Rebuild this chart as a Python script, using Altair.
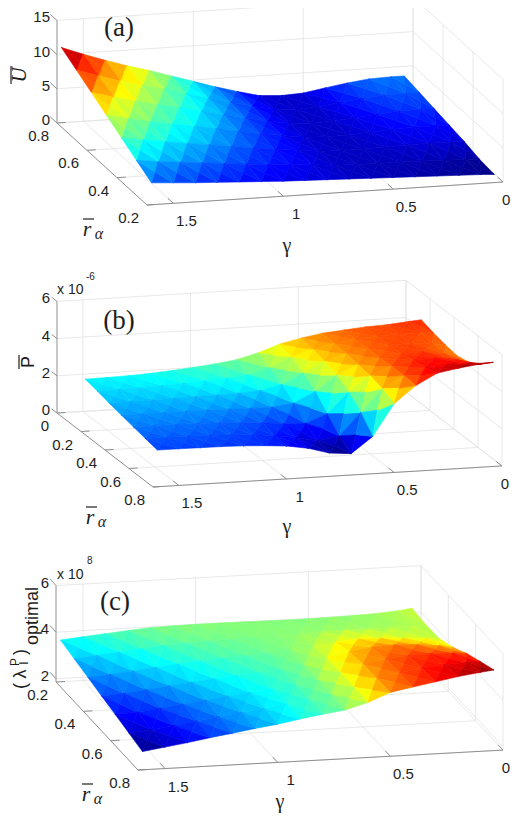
import altair as alt
import pandas as pd

# ---------------- data ----------------
gamma = [0.04, 0.1, 0.2, 0.3, 0.4, 0.5, 0.6, 0.7, 0.8, 0.9, 1.0, 1.1, 1.2, 1.3, 1.4, 1.5, 1.6]
r_alpha = [0.2, 0.3, 0.4, 0.5, 0.6, 0.7, 0.8]

# (a) U-bar : one list per r_alpha value (0.2 ... 0.8), along gamma
U_r02 = [1.2, 1.3, 1.4, 1.5, 1.6, 1.7, 1.8, 1.9, 2.0, 2.1, 2.2, 2.35, 2.5, 2.65, 2.8, 3.0, 3.2]
U_r03 = [1.45, 1.5, 1.6, 1.7, 1.75, 1.75, 1.8, 1.9, 2.2, 2.4, 2.6, 2.9, 3.2, 3.5, 3.8, 4.1, 4.5]
U_r04 = [2.0, 2.05, 2.1, 2.05, 1.95, 1.85, 1.85, 1.95, 2.3, 2.65, 3.05, 3.5, 3.95, 4.35, 4.8, 5.3, 5.8]
U_r05 = [2.4, 2.45, 2.45, 2.3, 2.1, 1.9, 1.85, 2.0, 2.45, 2.95, 3.5, 4.1, 4.65, 5.2, 5.75, 6.4, 7.1]
U_r06 = [2.8, 2.85, 2.8, 2.55, 2.25, 1.95, 1.85, 2.05, 2.6, 3.25, 3.95, 4.65, 5.35, 6.0, 6.75, 7.55, 8.4]
U_r07 = [3.2, 3.2, 3.15, 2.85, 2.45, 2.0, 1.9, 2.1, 2.8, 3.55, 4.35, 5.2, 6.1, 6.85, 7.7, 8.65, 9.7]
U_r08 = [3.6, 3.6, 3.5, 3.1, 2.6, 2.05, 1.9, 2.1, 2.9, 3.8, 4.8, 5.8, 6.8, 7.7, 8.7, 9.8, 11.0]

# (b) P-bar (x 1e-6)
P_r02 = [4.9, 4.85, 4.75, 4.7, 4.6, 4.5, 4.3, 4.05, 3.65, 3.35, 3.2, 3.08, 2.98, 2.9, 2.85, 2.82, 2.8]
P_r03 = [4.7, 4.75, 4.75, 4.7, 4.6, 4.45, 4.2, 3.85, 3.35, 3.05, 2.93, 2.86, 2.8, 2.75, 2.7, 2.68, 2.66]
P_r04 = [4.55, 4.65, 4.75, 4.72, 4.6, 4.4, 4.05, 3.5, 2.95, 2.7, 2.62, 2.6, 2.58, 2.56, 2.54, 2.52, 2.5]
P_r05 = [4.45, 4.6, 4.8, 4.75, 4.6, 4.3, 3.8, 3.0, 2.45, 2.3, 2.3, 2.33, 2.35, 2.36, 2.36, 2.36, 2.36]
P_r06 = [4.6, 4.8, 4.95, 4.9, 4.65, 4.2, 3.4, 2.3, 1.85, 1.9, 2.02, 2.1, 2.16, 2.2, 2.22, 2.23, 2.23]
P_r07 = [5.0, 5.1, 5.1, 5.0, 4.65, 4.0, 2.8, 1.6, 1.42, 1.65, 1.84, 1.95, 2.02, 2.06, 2.08, 2.09, 2.1]
P_r08 = [5.6, 5.55, 5.4, 5.2, 4.6, 3.7, 2.0, 1.15, 1.25, 1.58, 1.77, 1.86, 1.92, 1.95, 1.96, 1.97, 1.97]

# (c) (lambda_I^P)_optimal (x 1e8)
L_r02 = [4.19, 4.12, 4.05, 4.02, 4.0, 3.98, 3.98, 3.99, 4.0, 4.01, 4.01, 4.0, 3.97, 3.9, 3.82, 3.74, 3.65]
L_r03 = [4.12, 4.1, 4.08, 4.07, 4.08, 4.05, 4.02, 4.0, 3.98, 3.95, 3.92, 3.88, 3.83, 3.75, 3.66, 3.57, 3.48]
L_r04 = [4.15, 4.2, 4.25, 4.3, 4.32, 4.25, 4.1, 3.98, 3.92, 3.87, 3.82, 3.75, 3.67, 3.58, 3.48, 3.38, 3.31]
L_r05 = [4.4, 4.5, 4.6, 4.65, 4.6, 4.45, 4.2, 3.98, 3.85, 3.77, 3.7, 3.62, 3.52, 3.42, 3.3, 3.2, 3.14]
L_r06 = [4.77, 4.82, 4.85, 4.82, 4.72, 4.55, 4.25, 3.98, 3.83, 3.7, 3.6, 3.5, 3.38, 3.26, 3.14, 3.02, 2.98]
L_r07 = [5.05, 5.05, 5.0, 4.9, 4.76, 4.58, 4.24, 3.98, 3.82, 3.68, 3.55, 3.43, 3.3, 3.17, 3.03, 2.9, 2.81]
L_r08 = [5.32, 5.25, 5.12, 4.95, 4.78, 4.6, 4.22, 3.95, 3.82, 3.67, 3.5, 3.37, 3.22, 3.08, 2.92, 2.78, 2.64]

gamma_ticks = [0.5, 1, 1.5]
gamma_tick_text = ["0.5", "1", "1.5"]
gamma_zero_tick = [0]
gamma_zero_text = ["0"]

z_ticks_a = [0, 5, 10, 15]
z_text_a = ["0", "5", "10", "15"]
r_ticks_a = [0.2, 0.4, 0.6, 0.8]
r_text_a = ["0.2", "0.4", "0.6", "0.8"]

z_ticks_b = [0, 2, 4, 6]
z_text_b = ["0", "2", "4", "6"]
r_ticks_b = [0, 0.2, 0.4, 0.6, 0.8]
r_text_b = ["0", "0.2", "0.4", "0.6", "0.8"]

z_ticks_c = [2, 4, 6]
z_text_c = ["2", "4", "6"]
r_ticks_c = [0.2, 0.4, 0.6, 0.8]
r_text_c = ["0.2", "0.4", "0.6", "0.8"]

# ---------------- layout / style ----------------
SANS = "Liberation Sans"
SERIF = "Liberation Serif"
GRID = "#e2e2e2"
AXIS = "#8f8f8f"
TXT = "#1e1e1e"

XS = alt.Scale(domain=[8, 512], nice=False, zero=False)
YS = alt.Scale(domain=[8, 814], nice=False, zero=False, reverse=True)
JET = alt.Scale(domain=[0, 0.125, 0.375, 0.625, 0.875, 1],
                range=["#00007f", "#0000ff", "#00ffff", "#ffff00", "#ff0000", "#7f0000"],
                interpolate="rgb")

# oblique (MATLAB-like orthographic) view of each panel's box
PANELS = [
    dict(rows=[U_r02, U_r03, U_r04, U_r05, U_r06, U_r07, U_r08],
         zt=z_ticks_a, ztx=z_text_a, rt=r_ticks_a, rtx=r_text_a,
         O=(57, 123), G=(219.8, -14.2), R=(-150.0, -136.7), Zs=6.84,
         gmax=1.62, rb=0.8, rf=0.2, zf=0.0, ztop=15.0),
    dict(rows=[P_r02, P_r03, P_r04, P_r05, P_r06, P_r07, P_r08],
         zt=z_ticks_b, ztx=z_text_b, rt=r_ticks_b, rtx=r_text_b,
         O=(57, 413), G=(215.4, -13.0), R=(120.0, 92.5), Zs=18.6,
         gmax=1.62, rb=0.0, rf=0.8, zf=0.0, ztop=6.0),
    dict(rows=[L_r02, L_r03, L_r04, L_r05, L_r06, L_r07, L_r08],
         zt=z_ticks_c, ztx=z_text_c, rt=r_ticks_c, rtx=r_text_c,
         O=(56, 682), G=(225.3, -12.3), R=(136.7, 146.7), Zs=23.3,
         gmax=1.62, rb=0.2, rf=0.8, zf=1.86, ztop=6.0),
]


def pexpr(p, g, r, z):
    ox, oy = p["O"]
    gx, gy = p["G"]
    rx, ry = p["R"]
    sx = f"{ox} + ({p['gmax']} - {g}) * {gx} + ({r} - {p['rb']}) * {rx}"
    sy = (f"{oy} + ({p['gmax']} - {g}) * {gy} + ({r} - {p['rb']}) * {ry}"
          f" - ({z} - {p['zf']}) * {p['Zs']}")
    return sx, sy


def surface_layer(p):
    """Each grid cell is drawn as four triangles around the cell centre
    (centre position/height = mean of the cell's four samples, done by Vega)."""
    rows = p["rows"]
    js = list(range(len(r_alpha) - 1))
    if p["rb"] > p["rf"]:
        js = js[::-1]
    recs = []
    q = 0
    for j in js:
        for i in range(len(gamma) - 1):
            corners = [(i, j), (i + 1, j), (i + 1, j + 1), (i, j + 1)]
            for m in range(4):
                tri = q * 4 + m
                for k, (ii, jj) in enumerate([corners[m], corners[(m + 1) % 4]]):
                    recs.append({"q": q, "tri": tri, "k": k,
                                 "g": gamma[ii], "r": r_alpha[jj], "z": rows[jj][ii]})
                recs.append({"q": q, "tri": tri, "k": 2, "g": None, "r": None, "z": None})
            q += 1
    sx, sy = pexpr(p, "datum.gg", "datum.rr", "datum.zz")
    return (alt.Chart(pd.DataFrame(recs))
            .transform_joinaggregate(gq="mean(g)", rq="mean(r)", zq="mean(z)", groupby=["q"])
            .transform_joinaggregate(zlo="min(z)", zhi="max(z)")
            .transform_calculate(gg="isValid(datum.g) ? datum.g : datum.gq",
                                 rr="isValid(datum.r) ? datum.r : datum.rq",
                                 zz="isValid(datum.z) ? datum.z : datum.zq")
            .transform_joinaggregate(zt="mean(zz)", groupby=["tri"])
            .transform_calculate(t="(datum.zt - datum.zlo) / (datum.zhi - datum.zlo)", sx=sx, sy=sy)
            .mark_line(interpolate="linear-closed", strokeWidth=0.6, strokeJoin="round")
            .encode(x=alt.X("sx:Q", scale=XS, axis=None),
                    y=alt.Y("sy:Q", scale=YS, axis=None),
                    fill=alt.Fill("t:Q", scale=JET, legend=None),
                    stroke=alt.Stroke("t:Q", scale=JET, legend=None),
                    detail="tri:N", order="k:Q"))


def seg_layer(p, segs, color, width):
    df = pd.DataFrame(segs, columns=["g1", "r1", "z1", "g2", "r2", "z2"])
    sx1, sy1 = pexpr(p, "datum.g1", "datum.r1", "datum.z1")
    sx2, sy2 = pexpr(p, "datum.g2", "datum.r2", "datum.z2")
    return (alt.Chart(df)
            .transform_calculate(sx=sx1, sy=sy1, sx2=sx2, sy2=sy2)
            .mark_rule(color=color, strokeWidth=width)
            .encode(x=alt.X("sx:Q", scale=XS, axis=None), y=alt.Y("sy:Q", scale=YS, axis=None),
                    x2="sx2:Q", y2="sy2:Q"))


def label_layer(p, g, r, z, labels, **mk):
    df = pd.DataFrame({"g": g, "r": r, "z": z, "label": labels})
    sx, sy = pexpr(p, "datum.g", "datum.r", "datum.z")
    return (alt.Chart(df)
            .transform_calculate(sx=sx, sy=sy)
            .mark_text(font=SANS, fontSize=15, color=TXT, baseline="middle", **mk)
            .encode(x=alt.X("sx:Q", scale=XS, axis=None), y=alt.Y("sy:Q", scale=YS, axis=None),
                    text="label:N"))


def note(text, x, y, **mk):
    style = dict(font=SANS, fontSize=15, color=TXT, align="center", baseline="middle")
    style.update(mk)
    return (alt.Chart(pd.DataFrame({"label": [text]}))
            .mark_text(**style)
            .encode(x=alt.value(x - 8), y=alt.value(y - 8), text="label:N"))


def bar(x1, y1, x2, y2, width=1.2):
    return (alt.Chart(pd.DataFrame({"k": [0]}))
            .mark_rule(color=TXT, strokeWidth=width)
            .encode(x=alt.value(x1 - 8), x2=alt.value(x2 - 8), y=alt.value(y1 - 8), y2=alt.value(y2 - 8)))


grid_layers, axis_layers, surf_layers, text_layers = [], [], [], []
for p in PANELS:
    gm, rb, rf, zf, zt = p["gmax"], p["rb"], p["rf"], p["zf"], p["ztop"]
    gall = [0] + gamma_ticks
    segs = []
    for g in gall:
        segs.append((g, rb, zf, g, rf, zf))      # floor
        segs.append((g, rb, zf, g, rb, zt))      # back wall
    for r in p["rt"]:
        segs.append((0, r, zf, gm, r, zf))       # floor
        segs.append((0, r, zf, 0, r, zt))        # side wall
    for z in p["zt"]:
        segs.append((0, rb, z, gm, rb, z))       # back wall
        segs.append((0, rb, z, 0, rf, z))        # side wall
    grid_layers.append(seg_layer(p, segs, GRID, 0.8))

    dr = rb - rf
    axes = [(gm, rb, zf, gm, rb, zt), (gm, rb, zf, gm, rf, zf), (gm, rf, zf, 0, rf, zf)]
    for z in p["zt"]:
        axes.append((gm, rb, z, gm, rb + 0.045 * (1 if dr > 0 else -1), z))
    for r in p["rt"]:
        axes.append((gm, r, zf, gm - 0.04, r, zf))
    for g in gall:
        axes.append((g, rf, zf, g, rf + 0.06 * dr, zf))
    axis_layers.append(seg_layer(p, axes, AXIS, 1.0))

    surf_layers.append(surface_layer(p))

    n = len(p["zt"])
    text_layers.append(label_layer(p, [gm] * n, [rb] * n, p["zt"], p["ztx"], align="right", dx=-7, dy=-3))
    n = len(p["rt"])
    text_layers.append(label_layer(p, [gm] * n, p["rt"], [zf] * n, p["rtx"], align="right", dx=-8, dy=13))
    n = len(gamma_ticks)
    text_layers.append(label_layer(p, gamma_ticks, [rf] * n, [zf] * n, gamma_tick_text, align="center", dx=13, dy=18))
    text_layers.append(label_layer(p, gamma_zero_tick, [rf], [zf], gamma_zero_text, align="center", dx=3, dy=18))

# panel letters
text_layers += [
    note("(a)", 119, 28, font=SERIF, fontSize=27),
    note("(b)", 119, 321, font=SERIF, fontSize=27),
    note("(c)", 115, 602, font=SERIF, fontSize=27),
]
# gamma titles
text_layers += [note("γ", 287, 246, font=SERIF, fontSize=20),
                note("γ", 287, 527, font=SERIF, fontSize=20),
                note("γ", 280, 802, font=SERIF, fontSize=20)]
# r_alpha titles
for (rx, ry) in [(87, 229), (90, 517), (86, 794)]:
    text_layers.append(note("r", rx, ry, font=SERIF, fontSize=22, fontStyle="italic"))
    text_layers.append(note("α", rx + 12, ry + 5, font=SERIF, fontSize=16, fontStyle="italic"))
    text_layers.append(bar(rx - 4, ry - 10, rx + 7, ry - 10))
# z titles
text_layers += [
    note("U", 20, 75, font=SERIF, fontSize=21, fontStyle="italic", angle=270),
    bar(11, 66, 11, 84),
    note("P", 29, 362, fontSize=18, angle=270),
    bar(19, 355, 19, 369),
    note("x 10", 57, 290, fontSize=14, align="left"),
    note("-6", 86, 277, fontSize=10, align="left"),
    note("(", 26, 686, fontSize=18, angle=270, baseline="alphabetic"),
    note("λ", 26, 674, fontSize=18, angle=270, baseline="alphabetic"),
    note("P", 19, 662, fontSize=12, angle=270, baseline="alphabetic"),
    note("I", 28, 663, fontSize=12, angle=270, baseline="alphabetic"),
    note(")", 26, 652, fontSize=18, angle=270, baseline="alphabetic"),
    note("optimal", 38, 616, fontSize=18, angle=270, baseline="alphabetic"),
    note("x 10", 57, 575, fontSize=14, align="left"),
    note("8", 87, 561, fontSize=10, align="left"),
]

chart = (alt.layer(*grid_layers, *axis_layers, *surf_layers, *text_layers)
         .properties(width=504, height=806, autosize=alt.AutoSizeParams(type="none"),
                     padding=0, background="white")
         .configure_view(stroke=None))

chart.save("out.html", embed_options={"renderer": "svg", "actions": False})
